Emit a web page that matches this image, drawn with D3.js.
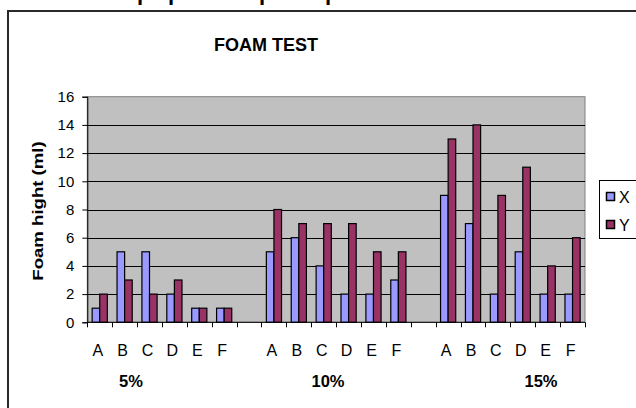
<!DOCTYPE html>
<html>
<head>
<meta charset="utf-8">
<script src="https://cdn.jsdelivr.net/npm/d3@7"></script>
<style>
  html, body { margin: 0; padding: 0; background: #fff; }
  svg { display: block; }
  text { font-family: Arial, "Liberation Sans", sans-serif; fill: #000; }
</style>
</head>
<body>
<svg id="chart" width="636" height="408"></svg>
<script>
// ---- data ----
const title = "FOAM TEST";
const yTitle = "Foam hight (ml)";
const groups = ["5%", "10%", "15%"];
const subcats = ["A", "B", "C", "D", "E", "F"];
const seriesNames = ["X", "Y"];
const xValues = [[1, 5, 5, 2, 1, 1], [5, 6, 4, 2, 2, 3], [9, 7, 2, 5, 2, 2]];
const yValues = [[2, 3, 2, 3, 1, 1], [8, 7, 7, 7, 5, 5], [13, 14, 9, 11, 4, 6]];
const yTicks = [0, 2, 4, 6, 8, 10, 12, 14, 16];
const seriesColors = ["#9999FF", "#993366"];

// ---- layout ----
const plot = { left: 87.3, right: 585, top: 96.7, bottom: 322.3 };
const groupLabelX = [131, 328, 541];

// build slot list: 6 categories per group, a blank slot between groups
const slots = [];
groups.forEach((g, gi) => {
  subcats.forEach((c, ci) => slots.push({ key: g + "-" + c, label: c, group: gi, values: [xValues[gi][ci], yValues[gi][ci]] }));
  if (gi < groups.length - 1) slots.push({ key: "gap" + gi, label: "", group: gi, values: null });
});

const svg = d3.select("#chart");

// document text above the chart, cut off by the picture's top edge (only descenders visible)
[137, 168, 259, 325].forEach(px => {
  svg.append("text").attr("x", px).attr("y", -0.5)
    .attr("font-family", "'Liberation Serif', 'Times New Roman', serif")
    .attr("font-weight", "bold").attr("font-size", 22).text("p");
});

// outer chart border
svg.append("rect").attr("x", 8).attr("y", 11).attr("width", 700).attr("height", 500)
  .attr("fill", "none").attr("stroke", "#2a2a2a").attr("stroke-width", 2);

const x = d3.scaleBand().domain(slots.map(s => s.key)).range([plot.left, plot.right]).paddingInner(0).paddingOuter(0);
const xs = d3.scaleBand().domain(seriesNames).range([0, x.bandwidth()]).paddingInner(0).paddingOuter(0.64);
const y = d3.scaleLinear().domain([0, 16]).range([plot.bottom, plot.top]);

// plot area
svg.append("rect").attr("x", plot.left).attr("y", plot.top)
  .attr("width", plot.right - plot.left).attr("height", plot.bottom - plot.top)
  .attr("fill", "#C0C0C0").attr("stroke", "#808080").attr("stroke-width", 1);

// gridlines
svg.append("g").selectAll("line").data(yTicks.filter(t => t > 0 && t < 16)).join("line")
  .attr("x1", plot.left).attr("x2", plot.right)
  .attr("y1", d => Math.round(y(d)) + 0.5).attr("y2", d => Math.round(y(d)) + 0.5)
  .attr("stroke", "#000").attr("stroke-width", 1);

// bars
const barG = svg.append("g");
slots.filter(s => s.values).forEach(s => {
  seriesNames.forEach((name, si) => {
    const v = s.values[si];
    barG.append("rect")
      .attr("x", x(s.key) + xs(name))
      .attr("y", y(v))
      .attr("width", xs.bandwidth())
      .attr("height", y(0) - y(v))
      .attr("fill", seriesColors[si])
      .attr("stroke", "#000").attr("stroke-width", 1.2);
  });
});

// y axis
const yAxis = d3.axisLeft(y).tickValues(yTicks).tickSize(5).tickPadding(8);
const yg = svg.append("g").attr("transform", `translate(${plot.left},0)`).call(yAxis);
yg.select(".domain").attr("stroke", "#000");
yg.selectAll(".tick line").attr("stroke", "#000");
yg.selectAll(".tick text").attr("font-size", 15).attr("font-family", "Arial, 'Liberation Sans', sans-serif").attr("fill", "#000");

// x axis (ticks at band boundaries)
const boundaries = d3.range(slots.length + 1).map(i => plot.left + i * x.bandwidth());
svg.append("line").attr("x1", plot.left).attr("x2", plot.right)
  .attr("y1", plot.bottom).attr("y2", plot.bottom).attr("stroke", "#000");
svg.append("g").selectAll("line").data(boundaries).join("line")
  .attr("x1", d => Math.round(d) + 0.5).attr("x2", d => Math.round(d) + 0.5)
  .attr("y1", plot.bottom).attr("y2", plot.bottom + 5).attr("stroke", "#000");

svg.append("g").selectAll("text").data(slots.filter(s => s.label)).join("text")
  .attr("x", d => x(d.key) + x.bandwidth() / 2 - 2)
  .attr("y", 355.5)
  .attr("text-anchor", "middle").attr("font-size", 16)
  .text(d => d.label);

// group labels
svg.append("g").selectAll("text").data(groups).join("text")
  .attr("x", (d, i) => groupLabelX[i]).attr("y", 387)
  .attr("text-anchor", "middle").attr("font-size", 16.5).attr("font-weight", "bold")
  .text(d => d);

// title
svg.append("text").attr("x", 266).attr("y", 51).attr("text-anchor", "middle")
  .attr("font-size", 18).attr("font-weight", "bold").text(title);

// y title
svg.append("text")
  .attr("transform", `translate(43,211) rotate(-90) scale(1.2,1)`)
  .attr("text-anchor", "middle").attr("font-size", 15.5).attr("font-weight", "bold")
  .text(yTitle);

// legend
const lg = svg.append("g");
lg.append("rect").attr("x", 599.5).attr("y", 180.5).attr("width", 60).attr("height", 58)
  .attr("fill", "#fff").attr("stroke", "#000").attr("stroke-width", 1);
seriesNames.forEach((name, i) => {
  const cy = 197 + i * 28;
  lg.append("rect").attr("x", 606.5).attr("y", cy - 4.5).attr("width", 8).attr("height", 8)
    .attr("fill", seriesColors[i]).attr("stroke", "#000").attr("stroke-width", 1.5);
  lg.append("text").attr("x", 619).attr("y", cy + 6).attr("font-size", 16).text(name);
});
</script>
</body>
</html>
